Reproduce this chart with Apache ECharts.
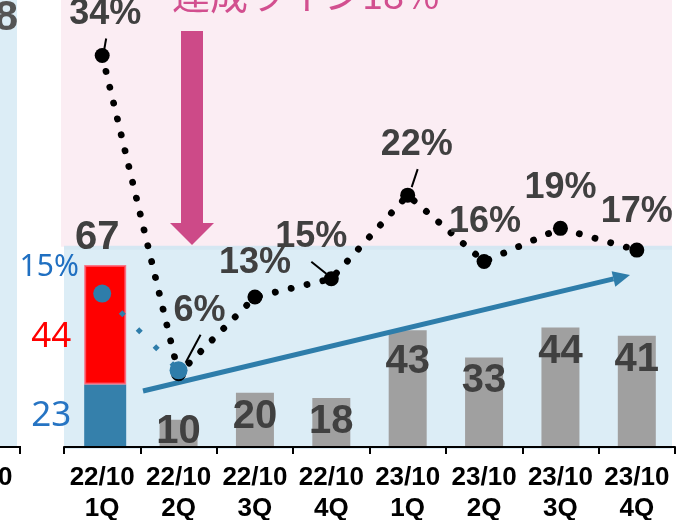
<!DOCTYPE html>
<html><head><meta charset="utf-8">
<script src="https://cdn.jsdelivr.net/npm/echarts@6/dist/echarts.min.js"></script>
<style>html,body{margin:0;padding:0;background:#fff}#c{width:687px;height:520px}</style>
</head><body><div id="c"></div>
<script>
// ---------- data ----------
const categories = ['22/10\n1Q','22/10\n2Q','22/10\n3Q','22/10\n4Q','23/10\n1Q','23/10\n2Q','23/10\n3Q','23/10\n4Q'];
const grayBars  = [null, 10, 20, 18, 43, 33, 44, 41];
const blueSeg   = [23, null, null, null, null, null, null, null];
const redSeg    = [44, null, null, null, null, null, null, null];
const ratePct   = [34.2, 6.4, 13.1, 14.7, 22.0, 16.2, 19.1, 17.2];
const blueRate  = [13.4, 6.7, null, null, null, null, null, null];
const blueRateLabels = ['15%', '', '', '', '', '', '', ''];
const targetText = '達成ライン18%';
const neighborLabel = '8';
const neighborTick = '0';

// ---------- layout / style ----------
const barAxisMax = 164.6;
const pctAxisMax = 39.05;
const bandEdgePct = 17.5;
const rateLabelOffset = [[3,-41],[21,-63],[0,-34],[-20,-42],[9,-50],[1,-39],[0,-40],[0,-38]];
const grayLabelNudge = [0,-12,0,0,8,0,0,0];
const leaders = [
  {i:0, from:[4,-17], to:[2,-6]},
  {i:1, from:[22,-39], to:[7,-11]},
  {i:3, from:[-20,-17], to:[-5,-5]},
  {i:4, from:[10,-26], to:[4,-8]}
];
const PINK_BG = '#fbedf3', BLUE_BG = '#dcedf6', STEEL = '#2e7daa';
const LAB = '#404040';
const FONT = 'Liberation Sans, Arial, sans-serif';

const chart = echarts.init(document.getElementById('c'));

const option = {
  animation: false,
  grid: [
    {left: 64, right: 12, top: 0, bottom: 73, outerBoundsMode: 'none', containLabel: false},
    {left: 67, right: 9, top: 0, bottom: 73, outerBoundsMode: 'none', containLabel: false}
  ],
  xAxis: [{
    type: 'category', gridIndex: 0, data: categories, boundaryGap: true,
    axisLine: {lineStyle: {color: '#000', width: 2}},
    axisTick: {show: true, length: 7, lineStyle: {color: '#000', width: 2}},
    axisLabel: {color: '#000', fontFamily: FONT, fontWeight: 'bold', fontSize: 26, lineHeight: 31, margin: 15, interval: 0},
    z: 10
  }, {
    type: 'category', gridIndex: 1, data: categories, show: false
  }],
  yAxis: [
    {type: 'value', gridIndex: 0, min: 0, max: barAxisMax, show: false},
    {type: 'value', gridIndex: 0, min: 0, max: pctAxisMax, show: false},
    {type: 'value', gridIndex: 1, min: 0, max: barAxisMax, show: false}
  ],
  series: [
    {
      name: 'gray', type: 'bar', xAxisIndex: 0, yAxisIndex: 0, barWidth: 38, z: 2,
      itemStyle: {color: '#a0a0a0'},
      data: grayBars.map((v, i) => ({value: v, label: {offset: [0, grayLabelNudge[i]]}})),
      label: {show: true, position: 'insideTop', distance: 4, color: LAB, fontFamily: FONT, fontWeight: 'bold', fontSize: 40}
    },
    {
      name: 'base', type: 'bar', xAxisIndex: 1, yAxisIndex: 2, stack: 'q1', barWidth: 42, z: 2,
      itemStyle: {color: '#2f7ca8', opacity: 0.97},
      data: blueSeg,
      label: {show: true, position: 'left', distance: 13, color: '#1f6fc1', fontFamily: 'Noto Sans, sans-serif', fontSize: 35}
    },
    {
      name: 'add', type: 'bar', xAxisIndex: 1, yAxisIndex: 2, stack: 'q1', barWidth: 42, z: 2,
      itemStyle: {color: '#ff0000', borderColor: 'rgba(255,90,110,0.8)', borderWidth: 2},
      data: redSeg,
      label: {show: true, position: 'left', distance: 13, offset: [0, 12], color: '#ff0000', fontFamily: 'Noto Sans, sans-serif', fontSize: 35}
    },
    {
      name: 'total', type: 'bar', xAxisIndex: 1, yAxisIndex: 2, stack: 'q1', barWidth: 42, z: 2,
      itemStyle: {color: 'transparent'},
      data: blueSeg.map(v => v == null ? null : 0),
      label: {show: true, position: 'top', distance: 7, offset: [-8, 0], color: LAB, fontFamily: FONT, fontWeight: 'bold', fontSize: 40,
        formatter: p => String((blueSeg[p.dataIndex] || 0) + (redSeg[p.dataIndex] || 0))}
    },
    {
      name: 'rate', type: 'line', xAxisIndex: 0, yAxisIndex: 1, z: 5,
      symbol: 'circle', symbolSize: 15,
      itemStyle: {color: '#000'},
      lineStyle: {color: '#000', width: 6.8, type: [0.1, 16.2], cap: 'round'},
      data: ratePct.map((v, i) => ({value: v, label: {offset: rateLabelOffset[i]}})),
      label: {show: true, position: 'inside', color: LAB, fontFamily: FONT, fontWeight: 'bold', fontSize: 36,
        formatter: p => Math.round(p.value) + '%'}
    },
    {
      name: 'blueRate', type: 'line', xAxisIndex: 0, yAxisIndex: 1, z: 6,
      symbol: 'circle', symbolSize: 18,
      itemStyle: {color: STEEL},
      lineStyle: {color: STEEL, width: 5, type: [5, 19], dashOffset: -2},
      data: blueRate,
      label: {show: true, position: 'inside', offset: [-53, -26], color: '#1f6fc1', fontFamily: 'Noto Sans, sans-serif', fontSize: 30,
        formatter: p => blueRateLabels[p.dataIndex]}
    }
  ]
};
chart.setOption(option);

// annotations positioned through the chart's own scales
const edgeY = chart.convertToPixel({yAxisIndex: 1}, bandEdgePct);
const baseY = chart.convertToPixel({yAxisIndex: 1}, 0);
const graphics = [
  {type: 'rect', z: -10, shape: {x: 61, y: 0, width: 611, height: edgeY}, style: {fill: PINK_BG}},
  {type: 'rect', z: -10, shape: {x: 64, y: edgeY, width: 608, height: baseY - edgeY + 2}, style: {fill: BLUE_BG}},
  {type: 'rect', z: -9, shape: {x: 64, y: edgeY - 1, width: 608, height: 4}, style: {fill: '#d5e7f2'}},
  {type: 'rect', z: -10, shape: {x: 0, y: 0, width: 17, height: baseY}, style: {fill: BLUE_BG}},
  {type: 'text', z: 1, style: {text: neighborLabel, x: 18, y: 18, align: 'right', verticalAlign: 'middle', fill: '#555555', font: 'bold 42px ' + FONT}},
  {type: 'line', z: 1, shape: {x1: 0, y1: baseY, x2: 21, y2: baseY}, style: {stroke: '#000', lineWidth: 2}},
  {type: 'line', z: 1, shape: {x1: 20, y1: baseY, x2: 20, y2: baseY + 7}, style: {stroke: '#000', lineWidth: 2}},
  {type: 'text', z: 1, style: {text: neighborTick, x: 12.5, y: 478, align: 'right', verticalAlign: 'middle', fill: '#000', font: 'bold 26px ' + FONT}},
  {type: 'polygon', z: 1, shape: {points: [[181,31],[203,31],[203,223],[214,223],[192,245],[170,223],[181,223]]}, style: {fill: '#cd4a88'}},
  {type: 'text', z: 1, style: {text: targetText, x: 172, y: -5, align: 'left', verticalAlign: 'middle', fill: '#d24f8f', font: '38px "Noto Sans CJK JP", sans-serif'}}
];
// trend arrow
(function () {
  const s = [143, 391], t = [630, 275];
  const dx = t[0] - s[0], dy = t[1] - s[1], L = Math.hypot(dx, dy);
  const ux = dx / L, uy = dy / L, nx = -uy, ny = ux;
  const bx = t[0] - 17 * ux, by = t[1] - 17 * uy;
  graphics.push({type: 'line', z: 4, shape: {x1: s[0], y1: s[1], x2: bx, y2: by}, style: {stroke: STEEL, lineWidth: 5}});
  graphics.push({type: 'polygon', z: 4, shape: {points: [t, [bx + 8 * nx, by + 8 * ny], [bx - 8 * nx, by - 8 * ny]]}, style: {fill: STEEL}});
})();
leaders.forEach(l => {
  const p = chart.convertToPixel({xAxisIndex: 0, yAxisIndex: 1}, [l.i, ratePct[l.i]]);
  graphics.push({type: 'line', z: 7, shape: {x1: p[0] + l.from[0], y1: p[1] + l.from[1], x2: p[0] + l.to[0], y2: p[1] + l.to[1]}, style: {stroke: '#000', lineWidth: 2}});
});
chart.setOption({graphic: graphics});
</script>
</body></html>
